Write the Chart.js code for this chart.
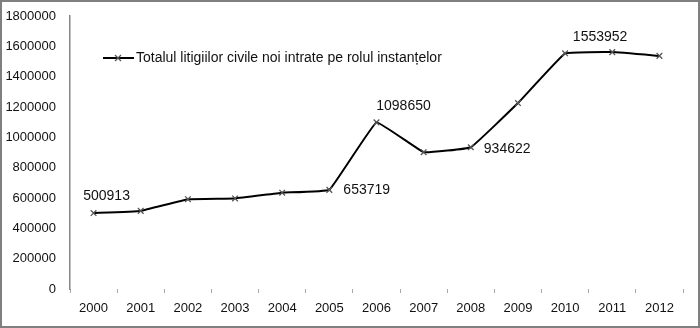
<!DOCTYPE html>
<html>
<head>
<meta charset="utf-8">
<script src="https://cdn.jsdelivr.net/npm/chart.js@4"></script>
<style>
html,body{margin:0;padding:0;background:#fff;}
canvas{display:block;}
</style>
</head>
<body>
<canvas id="c" width="700" height="328"></canvas>
<script>
const years = ['2000','2001','2002','2003','2004','2005','2006','2007','2008','2009','2010','2011','2012'];
const cases = [500913, 515000, 592000, 597000, 635000, 653719, 1098650, 902000, 934622, 1226000, 1553952, 1562000, 1537000];
const seriesName = 'Totalul litigiilor civile noi intrate pe rolul instanțelor';
const labelledYears = ['2000','2005','2006','2008','2010'];
const yTicks = [0,200000,400000,600000,800000,1000000,1200000,1400000,1600000,1800000];

const FONT = '"Liberation Sans", Arial, sans-serif';

const frame = {
  id:'frame',
  beforeDraw(chart){
    const c = chart.ctx;
    c.save();
    c.fillStyle='#fff';
    c.fillRect(0,0,chart.width,chart.height);
    c.restore();
  },
  afterDraw(chart){
    const c = chart.ctx;
    c.save();
    c.strokeStyle='#7f7f7f';
    c.lineWidth=2;
    c.strokeRect(1,1,chart.width-2,chart.height-2);
    c.restore();
  }
};

const valueLabels = {
  id:'valueLabels',
  afterDatasetsDraw(chart){
    const c = chart.ctx;
    const meta = chart.getDatasetMeta(0);
    c.save();
    c.font = '14px ' + FONT;
    c.fillStyle = '#111';
    c.textBaseline = 'middle';
    labelledYears.forEach(y=>{
      const i = years.indexOf(y);
      const p = meta.data[i];
      const txt = String(cases[i]);
      let x, yy, align;
      if (y==='2000'){ x=p.x+13; yy=p.y-17; align='center'; }
      else if (y==='2005'){ x=p.x+14; yy=p.y; align='left'; }
      else if (y==='2006'){ x=p.x+27; yy=p.y-16; align='center'; }
      else if (y==='2008'){ x=p.x+13; yy=p.y+2; align='left'; }
      else { x=p.x+35; yy=p.y-16; align='center'; }
      c.textAlign = align;
      c.fillText(txt, x, yy);
    });
    c.restore();
  }
};

const legendDraw = {
  id:'legendDraw',
  afterDraw(chart){
    const c = chart.ctx;
    c.save();
    const y = 58;
    c.strokeStyle='#000';
    c.lineWidth=2;
    c.beginPath(); c.moveTo(103,y); c.lineTo(134,y); c.stroke();
    c.strokeStyle='#555';
    c.lineWidth=1.2;
    c.beginPath();
    c.moveTo(115,y-3); c.lineTo(121,y+3);
    c.moveTo(121,y-3); c.lineTo(115,y+3);
    c.stroke();
    c.font='14px ' + FONT;
    c.fillStyle='#111';
    c.textBaseline='middle';
    c.textAlign='left';
    c.fillText(seriesName, 136, y);
    c.restore();
  }
};

new Chart(document.getElementById('c'), {
  type:'line',
  data:{
    labels: years,
    datasets:[{
      label: seriesName,
      data: cases,
      borderColor:'#000',
      borderWidth:2,
      tension:0.07,
      pointStyle:'crossRot',
      pointRadius:4,
      pointBorderColor:'#555',
      pointBorderWidth:1.3,
      pointBackgroundColor:'#555',
      fill:false
    }]
  },
  options:{
    responsive:false,
    animation:false,
    devicePixelRatio:1,
    layout:{padding:{left:0,right:17,top:16,bottom:0}},
    plugins:{legend:{display:false},tooltip:{enabled:false}},
    scales:{
      x:{
        offset:true,
        grid:{display:true, drawOnChartArea:false, drawTicks:true, tickLength:4, color:'#aaa', offset:true},
        border:{display:false},
        ticks:{font:{size:13,family:FONT}, color:'#111', padding:8, maxRotation:0, autoSkip:false},
        afterFit(s){ s.height = 39; }
      },
      y:{
        min:0, max:1800000,
        afterBuildTicks(s){ s.ticks = yTicks.map(v=>({value:v})); },
        grid:{display:false, drawTicks:false},
        border:{display:true, color:'#868686', width:1.5},
        ticks:{font:{size:13,family:FONT}, color:'#111', padding:14, callback:v=>String(v)},
        afterFit(s){ s.width = 70; s.paddingTop = 0; s.paddingBottom = 0; }
      }
    }
  },
  plugins:[frame, valueLabels, legendDraw]
});
</script>
</body>
</html>
